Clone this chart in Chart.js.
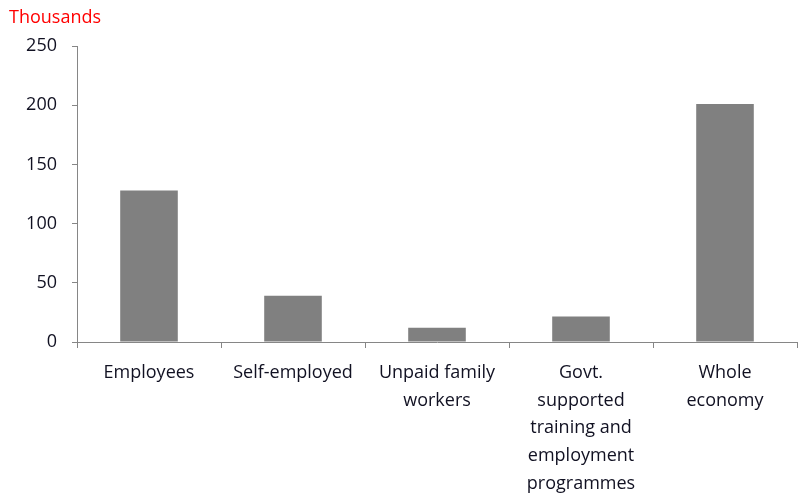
<!DOCTYPE html>
<html>
<head>
<meta charset="utf-8">
<script src="https://cdn.jsdelivr.net/npm/chart.js@4"></script>
<style>
  html, body { margin: 0; padding: 0; background: #fff; }
  #wrap { width: 800px; height: 493px; }
</style>
</head>
<body>
<div id="wrap"><canvas id="graphique"></canvas></div>
<script>
const categories = [
  ["Employees"],
  ["Self-employed"],
  ["Unpaid family", "workers"],
  ["Govt.", "supported", "training and", "employment", "programmes"],
  ["Whole", "economy"]
];
const values = [128, 39, 12, 21.5, 201];
const yTicks = [0, 50, 100, 150, 200, 250];
const unitLabel = "Thousands";

const unitPlugin = {
  id: "unitLabel",
  afterDraw(chart) {
    const ctx = chart.ctx;
    ctx.save();
    ctx.fillStyle = "#ff0000";
    ctx.font = "18px 'Open Sans'";
    ctx.textBaseline = "middle";
    ctx.textAlign = "left";
    ctx.fillText(unitLabel, 9, 18);
    ctx.restore();
  }
};

const ctx = document.getElementById("graphique").getContext("2d");
new Chart(ctx, {
  type: "bar",
  data: {
    labels: categories,
    datasets: [{
      data: values,
      backgroundColor: "#808080",
      borderWidth: 0,
      categoryPercentage: 0.4,
      barPercentage: 1
    }]
  },
  options: {
    responsive: true,
    maintainAspectRatio: false,
    animation: false,
    layout: { padding: { top: 46, right: 3, left: 0, bottom: 0 } },
    plugins: {
      legend: { display: false },
      tooltip: { enabled: false }
    },
    scales: {
      x: {
        grid: { display: true, drawOnChartArea: false, offset: true, tickLength: 6, color: "#868686" },
        border: { color: "#868686", width: 1 },
        ticks: {
          color: "#111122",
          font: { family: "'Open Sans'", size: 18, lineHeight: 1.54 },
          padding: 11,
          maxRotation: 0,
          autoSkip: false
        },
        afterFit(scale) { scale.height = 493 - 342; }
      },
      y: {
        min: 0,
        max: 250,
        afterBuildTicks(scale) { scale.ticks = yTicks.map(v => ({ value: v })); },
        grid: { display: true, drawOnChartArea: false, tickLength: 5, color: "#868686" },
        border: { color: "#868686", width: 1 },
        ticks: {
          color: "#111122",
          font: { family: "'Open Sans'", size: 18 },
          padding: 15
        },
        afterFit(scale) { scale.width = 77; }
      }
    }
  },
  plugins: [unitPlugin]
});
</script>
</body>
</html>
